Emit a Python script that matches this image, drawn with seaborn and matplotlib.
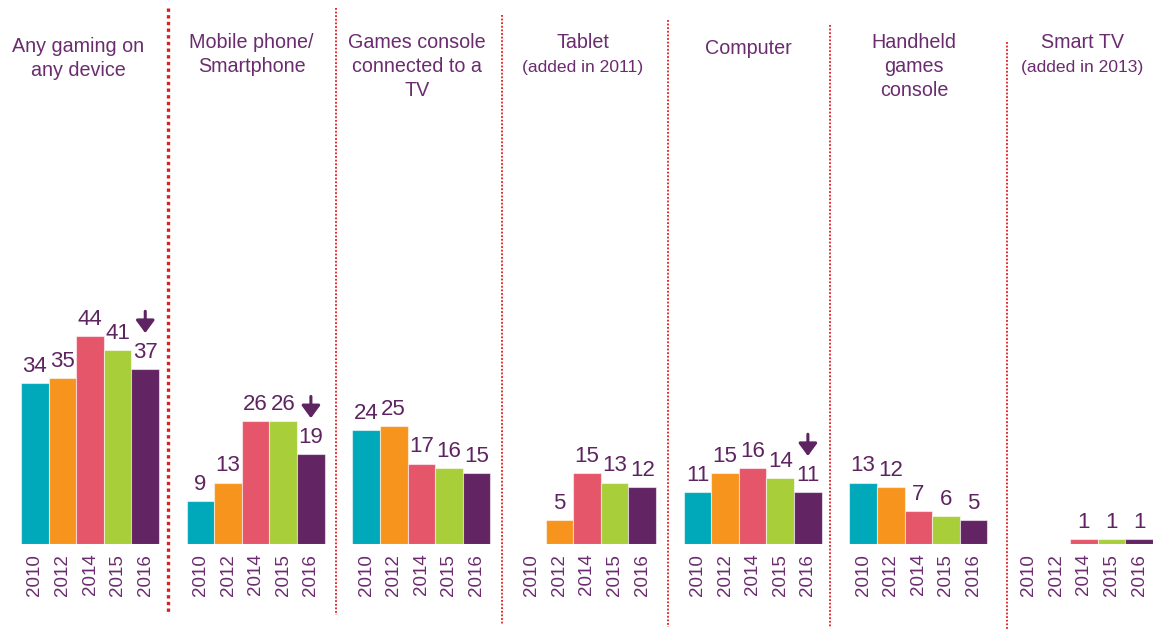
import matplotlib
matplotlib.use("Agg")
import matplotlib.pyplot as plt
import matplotlib.transforms as mtransforms
import numpy as np
import pandas as pd
import seaborn as sns

# ---------------- data ----------------
titles = [
    ["Any gaming on", "any device"],
    ["Mobile phone/", "Smartphone"],
    ["Games console", "connected to a", "TV"],
    ["Tablet"],
    ["Computer"],
    ["Handheld", "games", "console"],
    ["Smart TV"],
]
subtitles = ["", "", "", "(added in 2011)", "", "", "(added in 2013)"]
years = ["2010", "2012", "2014", "2015", "2016"]
any_gaming = [34, 35, 44, 41, 37]
mobile = [9, 13, 26, 26, 19]
console_tv = [24, 25, 17, 16, 15]
tablet = [None, 5, 15, 13, 12]
computer = [11, 15, 16, 14, 11]
handheld = [13, 12, 7, 6, 5]
smart_tv = [None, None, 1, 1, 1]
decline_2016 = [True, True, False, False, True, False, False]

groups = [any_gaming, mobile, console_tv, tablet, computer, handheld, smart_tv]
year_colors = {"2010": "#00A9BA", "2012": "#F7941E", "2014": "#E5566A",
               "2015": "#A8CE3A", "2016": "#622463"}
TEXT = "#6B2C6F"
VAL = "#5E2461"
RED = "#E41A1C"

# build long table & category order (with spacer slots between groups)
rows, order, xlabels = [], [], []
for gi, vals in enumerate(groups):
    for yr, v in zip(years, vals):
        slot = f"g{gi}_{yr}"
        order.append(slot)
        xlabels.append(yr)
        if v is not None:
            rows.append({"slot": slot, "year": yr, "value": v, "group": gi})
    if gi < len(groups) - 1:
        order.append(f"g{gi}_gap")
        xlabels.append("")
df = pd.DataFrame(rows)

# ---------------- style ----------------
sns.set_style("white")
plt.rcParams["font.family"] = ["Liberation Sans", "DejaVu Sans"]

W, H = 1153, 630
fig = plt.figure(figsize=(W / 100, H / 100), dpi=100)
base_px = 544
left_px = 21
ax = fig.add_axes([left_px / W, (H - base_px) / H, (W - left_px) / W, base_px / H])

sns.barplot(data=df, x="slot", y="value", hue="year", order=order,
            hue_order=years, palette=year_colors, dodge=False, width=1.0,
            saturation=1, errorbar=None, legend=False, ax=ax,
            edgecolor=(1, 1, 1, 0.55), linewidth=0.8)

px_per_unit = 4.73
ax.set_xlim(-0.5, len(order) - 0.5)
ax.set_ylim(0, base_px / px_per_unit)
ax.set_xlabel("")
ax.set_ylabel("")
ax.set_yticks([])
ax.set_xticks(range(len(order)))
ax.set_xticklabels(xlabels, rotation=90, fontsize=13.5, color=TEXT)
ax.tick_params(axis="x", length=0, pad=7)
for s in ax.spines.values():
    s.set_visible(False)

# value labels and decline arrows
for _, r in df.iterrows():
    x = order.index(r["slot"])
    ax.annotate(f"{int(r['value'])}", xy=(x, r["value"]), xytext=(0, 8),
                textcoords="offset points", ha="center", va="baseline",
                fontsize=16, color=VAL)
    if r["year"] == "2016" and decline_2016[r["group"]]:
        ax.annotate("", xy=(x, r["value"] + 7.6), xytext=(x, r["value"] + 12.2),
                    arrowprops=dict(arrowstyle="-|>,head_length=0.38,head_width=0.28",
                                    color=VAL, lw=2.2, mutation_scale=20,
                                    shrinkA=0, shrinkB=0))

# group titles
trans = mtransforms.blended_transform_factory(ax.transData, fig.transFigure)
title_dx = [-0.43, -0.15, -0.15, -0.15, -0.15, -0.15, -0.05]
title_base = [52, 48, 48, 48, 54, 48, 48]
for gi in range(len(groups)):
    cx = gi * 6 + 2 + title_dx[gi]
    y0 = title_base[gi]
    lines = titles[gi]
    for li, line in enumerate(lines):
        ax.text(cx, 1 - (y0 + 24 * li) / H, line, transform=trans, ha="center",
                va="baseline", fontsize=14.2, color=TEXT)
    if subtitles[gi]:
        ax.text(cx, 1 - (y0 + 24 * len(lines)) / H, subtitles[gi], transform=trans,
                ha="center", va="baseline", fontsize=12.6, color=TEXT)

# dotted group dividers
div_dx = [-0.17, -0.09, -0.07, -0.06, -0.19, 0.22]
div_top = [8, 8, 15, 20, 25, 42]
div_bot = [612, 615, 625, 627, 627, 630]
for k in range(len(groups) - 1):
    gx = k * 6 + 5 + div_dx[k]
    lw = 2.4 if k == 0 else 1.3
    ax.plot([gx, gx], [1 - div_top[k] / H, 1 - div_bot[k] / H], transform=trans,
            color=RED, lw=lw, linestyle=(0, (1, 1)), clip_on=False,
            solid_capstyle="butt", dash_capstyle="butt")

fig.savefig("out.png", dpi=100)
